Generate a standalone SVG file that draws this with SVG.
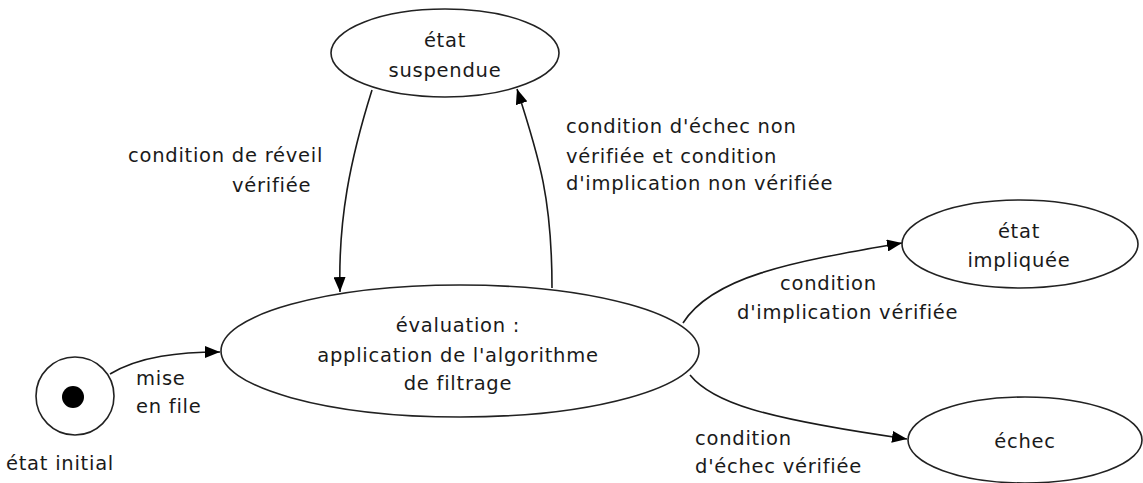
<svg xmlns="http://www.w3.org/2000/svg" width="1143" height="483" viewBox="0 0 1143 483">
<defs>
<style>
.node{fill:#fff;stroke:#222;stroke-width:1.6}
.t{font-family:"DejaVu Sans",Verdana,sans-serif;font-size:19.5px;letter-spacing:0.75px;fill:#1a1a1a}
.c{text-anchor:middle}
.edge{fill:none;stroke:#1a1a1a;stroke-width:1.6;marker-end:url(#ah)}
</style>
<marker id="ah" markerUnits="userSpaceOnUse" markerWidth="16" markerHeight="12" refX="15" refY="6" orient="auto">
<path d="M0,0 L15,6 L0,12 Z" fill="#000"/>
</marker>
</defs>
<rect width="1143" height="483" fill="#fff"/>
<g id="connectors">
<path class="edge" d="M110,374 C140,356 180,352 220,352"/>
<path class="edge" d="M372,90 C350,160 338,220 340,292"/>
<path class="edge" d="M552,288 C552,200 540,160 517,89"/>
<path class="edge" d="M683,323 C712,277 790,262 902,243"/>
<path class="edge" d="M690,375 C712,402 760,418 907,439"/>
</g>
<g id="initial">
<circle class="node" cx="75" cy="396" r="39"/>
<circle cx="73" cy="397" r="11" fill="#000"/>
<text class="t c" x="60" y="470">état initial</text>
</g>
<g id="suspendue">
<ellipse class="node" cx="445" cy="53" rx="114" ry="44"/>
<text class="t c" x="445" y="47">état</text>
<text class="t c" x="445" y="77">suspendue</text>
</g>
<g id="evaluation">
<ellipse class="node" cx="460" cy="351" rx="239" ry="66"/>
<text class="t c" x="458" y="332">évaluation :</text>
<text class="t c" x="458" y="362">application de l'algorithme</text>
<text class="t c" x="458" y="390">de filtrage</text>
</g>
<g id="impliquee">
<ellipse class="node" cx="1020" cy="244" rx="118" ry="44"/>
<text class="t c" x="1019" y="238">état</text>
<text class="t c" x="1019" y="267">impliquée</text>
</g>
<g id="echec">
<ellipse class="node" cx="1025" cy="440" rx="117" ry="43"/>
<text class="t c" x="1025" y="448">échec</text>
</g>
<g id="labels">
<text class="t" x="136" y="385">mise</text>
<text class="t" x="136" y="413">en file</text>
<text class="t" x="128" y="162">condition de réveil</text>
<text class="t" x="232" y="192">vérifiée</text>
<text class="t" x="566" y="133">condition d'échec non</text>
<text class="t" x="566" y="163">vérifiée et condition</text>
<text class="t" x="566" y="190">d'implication non vérifiée</text>
<text class="t" x="780" y="290">condition</text>
<text class="t" x="737" y="319">d'implication vérifiée</text>
<text class="t" x="695" y="445">condition</text>
<text class="t" x="695" y="473">d'échec vérifiée</text>
</g>
</svg>
